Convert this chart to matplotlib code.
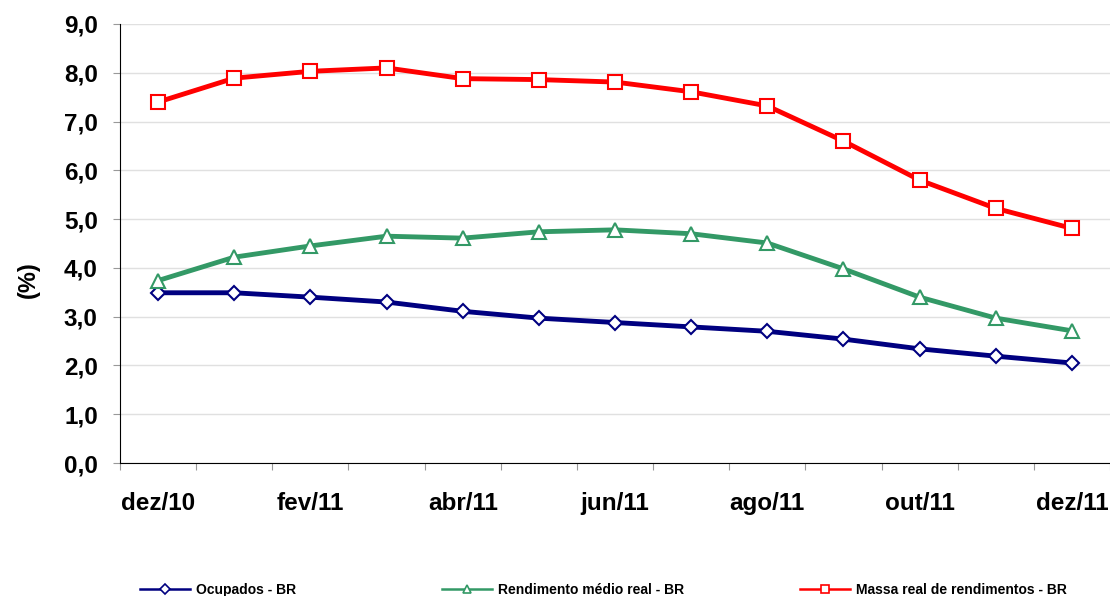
import matplotlib
matplotlib.use("Agg")
import matplotlib.pyplot as plt
from matplotlib.lines import Line2D

months = ["dez/10", "jan/11", "fev/11", "mar/11", "abr/11", "mai/11", "jun/11",
          "jul/11", "ago/11", "set/11", "out/11", "nov/11", "dez/11"]
ocupados = [3.49, 3.49, 3.40, 3.30, 3.11, 2.97, 2.88, 2.79, 2.70, 2.54, 2.34, 2.19, 2.05]
rendimento = [3.74, 4.22, 4.45, 4.65, 4.61, 4.74, 4.78, 4.70, 4.51, 3.98, 3.40, 2.97, 2.71]
massa = [7.40, 7.89, 8.03, 8.10, 7.88, 7.86, 7.81, 7.61, 7.32, 6.60, 5.80, 5.22, 4.81]
series_labels = ["Ocupados - BR", "Rendimento médio real - BR", "Massa real de rendimentos - BR"]
yticks = [0, 1, 2, 3, 4, 5, 6, 7, 8, 9]

plt.rcParams['font.family'] = ['Liberation Sans', 'DejaVu Sans']

W, H = 1110, 596
fig = plt.figure(figsize=(W / 100, H / 100), dpi=100)
ax = fig.add_axes([120 / W, 1 - 463 / H, (1110 - 120) / W, (463 - 24) / H])

colors = ['#000080', '#339966', '#FF0000']
markers = ['D', '^', 's']
sizes = [7.5, 10, 10]
x = list(range(len(months)))
for vals, c, m, s in zip([ocupados, rendimento, massa], colors, markers, sizes):
    ax.plot(x, vals, color=c, lw=3.5, marker=m, ms=s,
            mfc='white', mec=c, mew=1.5, zorder=3)

ax.set_xlim(-0.5, len(months) - 0.5)
ax.set_ylim(0, 9)
ax.set_yticks(yticks)
ax.set_yticklabels([f"{v:.1f}".replace('.', ',') for v in yticks],
                   fontsize=17.5, fontweight='bold')
ax.grid(axis='y', color='#e0e0e0', lw=1)
ax.set_axisbelow(True)

ax.set_xticks([i - 0.5 for i in range(len(months) + 1)])
ax.set_xticklabels([])
ax.set_xticks(x[::2], minor=True)
ax.set_xticklabels(months[::2], minor=True, fontsize=17.5, fontweight='bold')
ax.tick_params(axis='x', which='minor', length=0, pad=21)
ax.tick_params(axis='x', which='major', length=5, color='#999999')
ax.tick_params(axis='y', length=5, color='#999999', pad=11)

for s in ['top', 'right']:
    ax.spines[s].set_visible(False)
ax.spines['left'].set_color('black')
ax.spines['bottom'].set_color('black')

fig.text(28 / W, 1 - 280 / H, "(%)", rotation=90, fontsize=17, fontweight='bold',
         ha='center', va='center')

for c, m, lab, xp in zip(colors, markers, series_labels, [140, 442, 800]):
    h = Line2D([], [], color=c, lw=1.8, marker=m, ms=5.5, mfc='white', mec=c, mew=1.2)
    fig.legend([h], [lab], loc='center left', bbox_to_anchor=(xp / W, 1 - 590 / H),
               frameon=False, prop={'size': 10, 'weight': 'bold'},
               handlelength=3.6, handletextpad=0.45, borderpad=0, borderaxespad=0)

fig.savefig("out.png", dpi=100)
